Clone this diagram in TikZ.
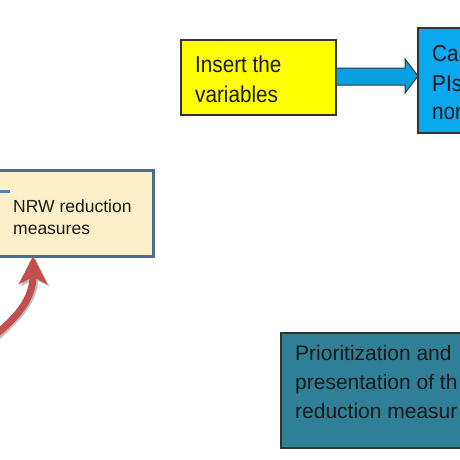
\documentclass[tikz,border=0pt]{standalone}
\usepackage{fontspec}
\setmainfont{Liberation Sans}
\newfontfamily\condfont[FakeStretch=0.9]{Liberation Sans}
\usetikzlibrary{arrows.meta}
\definecolor{yel}{HTML}{FFFF00}
\definecolor{skyb}{HTML}{0AA8EE}
\definecolor{teal2}{HTML}{2F7F96}
\definecolor{cream}{HTML}{FDEFC9}
\definecolor{slate}{HTML}{4B6B90}
\definecolor{redarr}{HTML}{C0504D}
\definecolor{lineblue}{HTML}{4F81BD}
\tikzset{
  boxd/.style={draw=black!80, line width=1.2pt, inner sep=0pt, outer sep=0pt},
  lbl/.style={anchor=base west, inner sep=0pt, text=black!90},
}
\begin{document}
\begin{tikzpicture}[x=1pt,y=-1pt]
\useasboundingbox (0,0) rectangle (460,460);
\clip (0,0) rectangle (460,460);
\fill[white] (0,0) rectangle (460,460);
% boxes
\node[boxd, fill=yel, minimum width=155pt, minimum height=75pt, anchor=north west] (ins) at (181,40) {};
\node[boxd, fill=skyb, minimum width=60pt, minimum height=105pt, anchor=north west] (calc) at (418,28) {};
\node[draw=slate, line width=2.6pt, fill=cream, inner sep=0pt, minimum width=165pt, minimum height=86pt, anchor=north east] (nrw) at (155,169) {};
\node[boxd, fill=teal2, minimum width=200pt, minimum height=115pt, anchor=north west] (prio) at (281,333) {};
% block arrow
\draw[black!80, line width=1pt, fill=skyb!95!black]
  (ins.east |- 0,68) -- (405,68) -- (405,59) -- (calc.west |- 0,76) -- (405,93) -- (405,85) -- (ins.east |- 0,85) -- cycle;
% texts
\node[lbl, font=\condfont\fontsize{23}{23}\selectfont] (t1) at (195,72) {Insert the};
\node[lbl, font=\condfont\fontsize{23}{23}\selectfont] (t2) at (195,102) {variables};
\node[lbl, font=\condfont\fontsize{23}{23}\selectfont] (c1) at (432,62) {Ca};
\node[lbl, font=\condfont\fontsize{23}{23}\selectfont] (c2) at (432,91) {PIs};
\node[lbl, font=\condfont\fontsize{23}{23}\selectfont] (c3) at (432,119) {nor};
\node[lbl, font=\fontsize{17.5}{17.5}\selectfont] (n1) at (13,212) {NRW reduction};
\node[lbl, font=\fontsize{17.5}{17.5}\selectfont] (n2) at (13,234) {measures};
\node[lbl, font=\fontsize{21}{21}\selectfont] (p1) at (295,360) {Prioritization and};
\node[lbl, font=\fontsize{21}{21}\selectfont] (p2) at (295,389) {presentation of th};
\node[lbl, font=\fontsize{21}{21}\selectfont] (p3) at (295,418) {reduction measur};
% small blue line
\coordinate (bl0) at (-2,191.5);
\coordinate (bl1) at (10,191.5);
\draw[lineblue, line width=3pt] (bl0) -- (bl1);
% red curved arrow
\coordinate (rs) at (-6,336);
\coordinate (rt) at (33,256);
\draw[black!25, line width=7pt, -{Stealth[length=28pt,width=28pt,inset=7pt]}]
  ([xshift=2pt,yshift=-2pt]rs) .. controls (18,318) and (35,300) .. ([xshift=2pt,yshift=-2pt]rt);
\draw[redarr, line width=7pt, -{Stealth[length=28pt,width=28pt,inset=7pt]}]
  (rs) .. controls (16,318) and (33,300) .. (rt);
\end{tikzpicture}
\end{document}
